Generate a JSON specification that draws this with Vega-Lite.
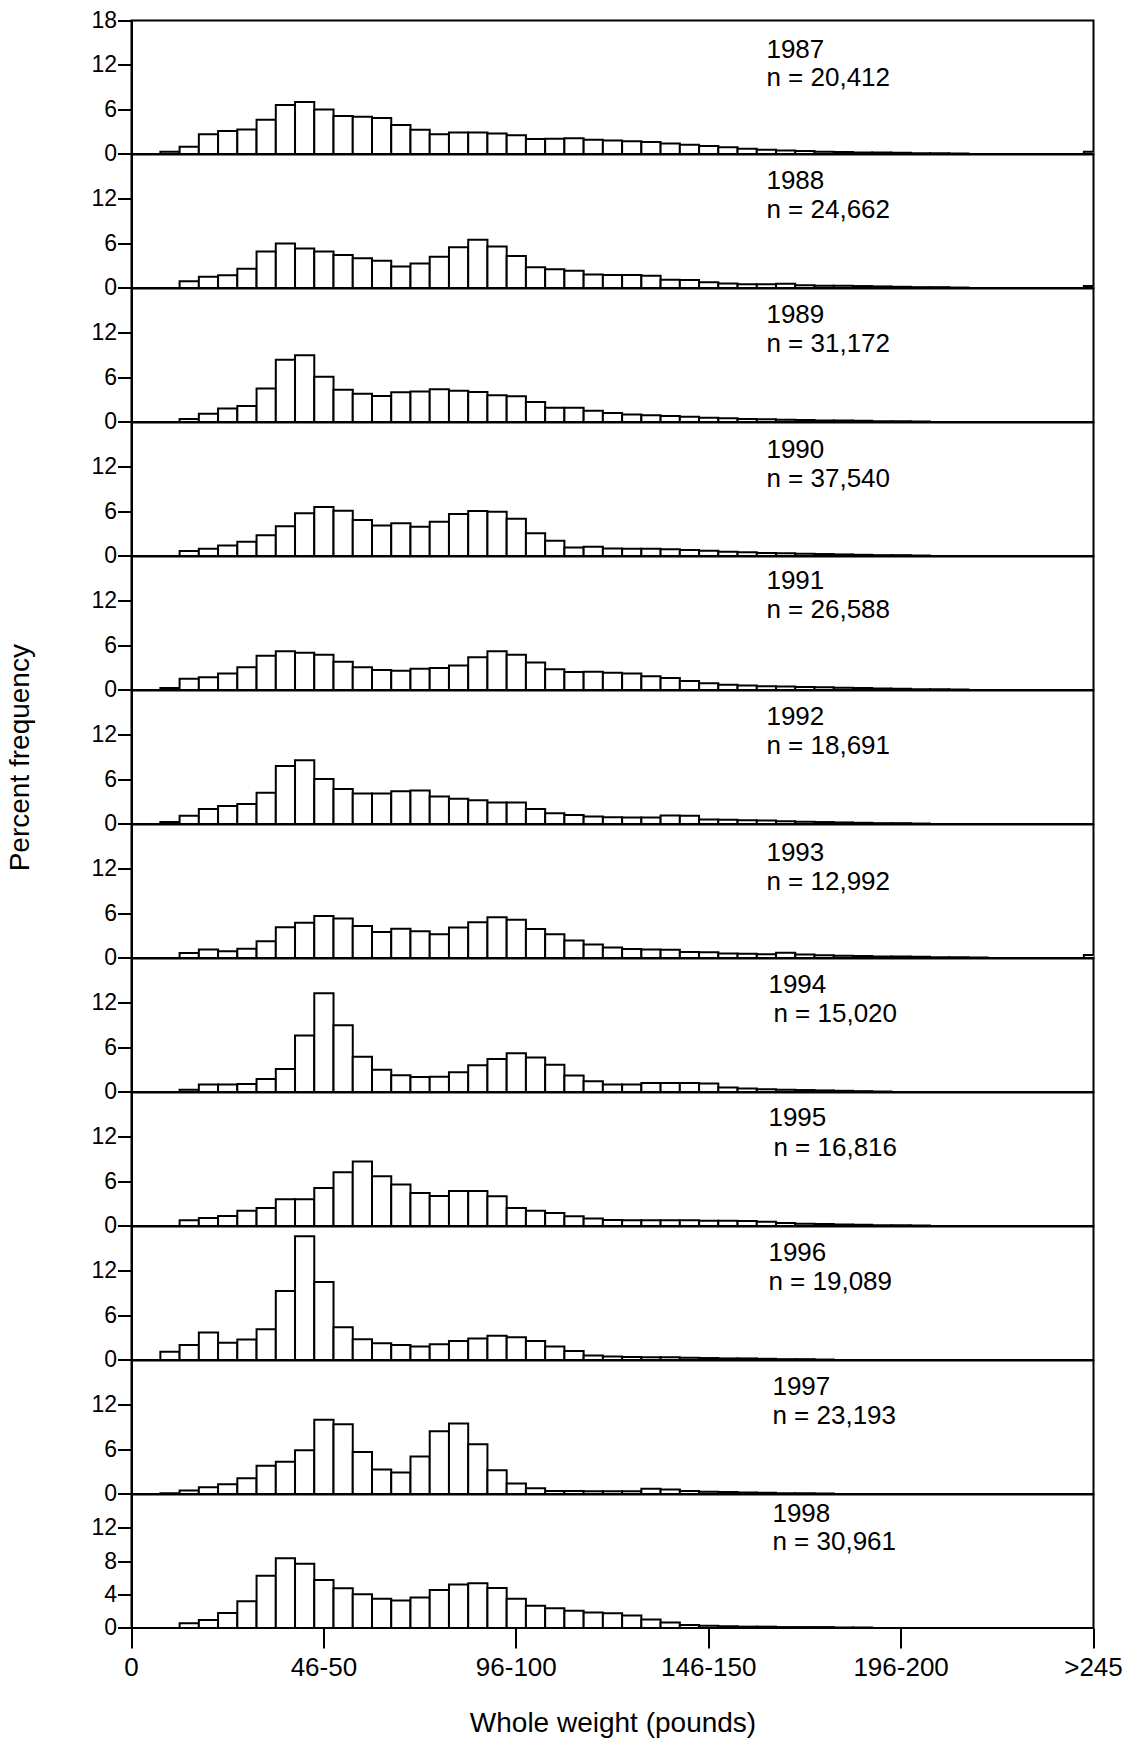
{
"$schema": "https://vega.github.io/schema/vega-lite/v6.json",
"padding": {"left": 4.5, "top": 8.5, "right": 5, "bottom": 0},
"bounds": "flush",
"spacing": 0,
"config": {
  "font": "Liberation Sans",
  "view": {"stroke": "black", "strokeWidth": 2},
  "axis": {"domainColor": "black", "domainWidth": 2, "tickColor": "black", "tickWidth": 2, "labelColor": "black", "titleColor": "black", "titleFontWeight": "normal", "grid": false, "labelOverlap": false, "labelFont": "Liberation Sans", "titleFont": "Liberation Sans"},
  "axisY": {"tickSize": 14, "labelPadding": 1, "labelFontSize": 23, "minExtent": 42, "maxExtent": 42},
  "axisX": {"tickSize": 20, "labelPadding": 7, "labelFontSize": 26, "labelAngle": 0, "domain": false, "titleFontSize": 28, "titlePadding": 29},
  "text": {"fill": "black", "font": "Liberation Sans", "fontSize": 26}
},
"datasets": {
"labels": [
{"year":1987,"line1":"1987","line2":"n = 20,412"},
{"year":1988,"line1":"1988","line2":"n = 24,662"},
{"year":1989,"line1":"1989","line2":"n = 31,172"},
{"year":1990,"line1":"1990","line2":"n = 37,540"},
{"year":1991,"line1":"1991","line2":"n = 26,588"},
{"year":1992,"line1":"1992","line2":"n = 18,691"},
{"year":1993,"line1":"1993","line2":"n = 12,992"},
{"year":1994,"line1":"1994","line2":"n = 15,020"},
{"year":1995,"line1":"1995","line2":"n = 16,816"},
{"year":1996,"line1":"1996","line2":"n = 19,089"},
{"year":1997,"line1":"1997","line2":"n = 23,193"},
{"year":1998,"line1":"1998","line2":"n = 30,961"}
],
"bars": [
{"year":1987,"weight":"6-10","pct":0.3},{"year":1987,"weight":"11-15","pct":0.95},{"year":1987,"weight":"16-20","pct":2.65},{"year":1987,"weight":"21-25","pct":3.1},{"year":1987,"weight":"26-30","pct":3.3},{"year":1987,"weight":"31-35","pct":4.6},{"year":1987,"weight":"36-40","pct":6.6},{"year":1987,"weight":"41-45","pct":7.0},{"year":1987,"weight":"46-50","pct":6.0},{"year":1987,"weight":"51-55","pct":5.1},{"year":1987,"weight":"56-60","pct":5.0},{"year":1987,"weight":"61-65","pct":4.85},{"year":1987,"weight":"66-70","pct":3.9},{"year":1987,"weight":"71-75","pct":3.25},{"year":1987,"weight":"76-80","pct":2.65},{"year":1987,"weight":"81-85","pct":2.9},{"year":1987,"weight":"86-90","pct":2.9},{"year":1987,"weight":"91-95","pct":2.75},{"year":1987,"weight":"96-100","pct":2.5},{"year":1987,"weight":"101-105","pct":2.0},{"year":1987,"weight":"106-110","pct":2.05},{"year":1987,"weight":"111-115","pct":2.1},{"year":1987,"weight":"116-120","pct":1.9},{"year":1987,"weight":"121-125","pct":1.8},{"year":1987,"weight":"126-130","pct":1.7},{"year":1987,"weight":"131-135","pct":1.6},{"year":1987,"weight":"136-140","pct":1.4},{"year":1987,"weight":"141-145","pct":1.25},{"year":1987,"weight":"146-150","pct":1.05},{"year":1987,"weight":"151-155","pct":0.9},{"year":1987,"weight":"156-160","pct":0.7},{"year":1987,"weight":"161-165","pct":0.55},{"year":1987,"weight":"166-170","pct":0.45},{"year":1987,"weight":"171-175","pct":0.4},{"year":1987,"weight":"176-180","pct":0.3},{"year":1987,"weight":"181-185","pct":0.25},{"year":1987,"weight":"186-190","pct":0.2},{"year":1987,"weight":"191-195","pct":0.2},{"year":1987,"weight":"196-200","pct":0.15},{"year":1987,"weight":"201-205","pct":0.1},{"year":1987,"weight":"206-210","pct":0.1},{"year":1987,"weight":"211-215","pct":0.05},{"year":1987,"weight":">245","pct":0.3},
{"year":1988,"weight":"11-15","pct":0.9},{"year":1988,"weight":"16-20","pct":1.5},{"year":1988,"weight":"21-25","pct":1.7},{"year":1988,"weight":"26-30","pct":2.6},{"year":1988,"weight":"31-35","pct":4.9},{"year":1988,"weight":"36-40","pct":6.0},{"year":1988,"weight":"41-45","pct":5.3},{"year":1988,"weight":"46-50","pct":4.9},{"year":1988,"weight":"51-55","pct":4.45},{"year":1988,"weight":"56-60","pct":4.0},{"year":1988,"weight":"61-65","pct":3.65},{"year":1988,"weight":"66-70","pct":2.9},{"year":1988,"weight":"71-75","pct":3.3},{"year":1988,"weight":"76-80","pct":4.2},{"year":1988,"weight":"81-85","pct":5.5},{"year":1988,"weight":"86-90","pct":6.5},{"year":1988,"weight":"91-95","pct":5.6},{"year":1988,"weight":"96-100","pct":4.3},{"year":1988,"weight":"101-105","pct":2.8},{"year":1988,"weight":"106-110","pct":2.5},{"year":1988,"weight":"111-115","pct":2.3},{"year":1988,"weight":"116-120","pct":1.8},{"year":1988,"weight":"121-125","pct":1.75},{"year":1988,"weight":"126-130","pct":1.75},{"year":1988,"weight":"131-135","pct":1.65},{"year":1988,"weight":"136-140","pct":1.1},{"year":1988,"weight":"141-145","pct":1.05},{"year":1988,"weight":"146-150","pct":0.75},{"year":1988,"weight":"151-155","pct":0.6},{"year":1988,"weight":"156-160","pct":0.5},{"year":1988,"weight":"161-165","pct":0.5},{"year":1988,"weight":"166-170","pct":0.55},{"year":1988,"weight":"171-175","pct":0.35},{"year":1988,"weight":"176-180","pct":0.3},{"year":1988,"weight":"181-185","pct":0.3},{"year":1988,"weight":"186-190","pct":0.25},{"year":1988,"weight":"191-195","pct":0.2},{"year":1988,"weight":"196-200","pct":0.15},{"year":1988,"weight":"201-205","pct":0.1},{"year":1988,"weight":"206-210","pct":0.1},{"year":1988,"weight":"211-215","pct":0.05},{"year":1988,"weight":">245","pct":0.25},
{"year":1989,"weight":"11-15","pct":0.4},{"year":1989,"weight":"16-20","pct":1.1},{"year":1989,"weight":"21-25","pct":1.8},{"year":1989,"weight":"26-30","pct":2.15},{"year":1989,"weight":"31-35","pct":4.5},{"year":1989,"weight":"36-40","pct":8.4},{"year":1989,"weight":"41-45","pct":9.0},{"year":1989,"weight":"46-50","pct":6.1},{"year":1989,"weight":"51-55","pct":4.35},{"year":1989,"weight":"56-60","pct":3.8},{"year":1989,"weight":"61-65","pct":3.5},{"year":1989,"weight":"66-70","pct":4.0},{"year":1989,"weight":"71-75","pct":4.1},{"year":1989,"weight":"76-80","pct":4.4},{"year":1989,"weight":"81-85","pct":4.2},{"year":1989,"weight":"86-90","pct":4.05},{"year":1989,"weight":"91-95","pct":3.6},{"year":1989,"weight":"96-100","pct":3.45},{"year":1989,"weight":"101-105","pct":2.7},{"year":1989,"weight":"106-110","pct":1.9},{"year":1989,"weight":"111-115","pct":1.9},{"year":1989,"weight":"116-120","pct":1.5},{"year":1989,"weight":"121-125","pct":1.2},{"year":1989,"weight":"126-130","pct":1.0},{"year":1989,"weight":"131-135","pct":0.9},{"year":1989,"weight":"136-140","pct":0.8},{"year":1989,"weight":"141-145","pct":0.7},{"year":1989,"weight":"146-150","pct":0.55},{"year":1989,"weight":"151-155","pct":0.5},{"year":1989,"weight":"156-160","pct":0.4},{"year":1989,"weight":"161-165","pct":0.35},{"year":1989,"weight":"166-170","pct":0.3},{"year":1989,"weight":"171-175","pct":0.25},{"year":1989,"weight":"176-180","pct":0.2},{"year":1989,"weight":"181-185","pct":0.2},{"year":1989,"weight":"186-190","pct":0.15},{"year":1989,"weight":"191-195","pct":0.1},{"year":1989,"weight":"196-200","pct":0.1},{"year":1989,"weight":"201-205","pct":0.05},
{"year":1990,"weight":"11-15","pct":0.67},{"year":1990,"weight":"16-20","pct":0.95},{"year":1990,"weight":"21-25","pct":1.4},{"year":1990,"weight":"26-30","pct":1.9},{"year":1990,"weight":"31-35","pct":2.8},{"year":1990,"weight":"36-40","pct":4.0},{"year":1990,"weight":"41-45","pct":5.75},{"year":1990,"weight":"46-50","pct":6.6},{"year":1990,"weight":"51-55","pct":6.1},{"year":1990,"weight":"56-60","pct":4.85},{"year":1990,"weight":"61-65","pct":4.1},{"year":1990,"weight":"66-70","pct":4.4},{"year":1990,"weight":"71-75","pct":3.95},{"year":1990,"weight":"76-80","pct":4.6},{"year":1990,"weight":"81-85","pct":5.65},{"year":1990,"weight":"86-90","pct":6.05},{"year":1990,"weight":"91-95","pct":5.95},{"year":1990,"weight":"96-100","pct":5.0},{"year":1990,"weight":"101-105","pct":3.05},{"year":1990,"weight":"106-110","pct":2.05},{"year":1990,"weight":"111-115","pct":1.15},{"year":1990,"weight":"116-120","pct":1.25},{"year":1990,"weight":"121-125","pct":1.0},{"year":1990,"weight":"126-130","pct":0.95},{"year":1990,"weight":"131-135","pct":0.95},{"year":1990,"weight":"136-140","pct":0.9},{"year":1990,"weight":"141-145","pct":0.8},{"year":1990,"weight":"146-150","pct":0.7},{"year":1990,"weight":"151-155","pct":0.55},{"year":1990,"weight":"156-160","pct":0.5},{"year":1990,"weight":"161-165","pct":0.4},{"year":1990,"weight":"166-170","pct":0.35},{"year":1990,"weight":"171-175","pct":0.3},{"year":1990,"weight":"176-180","pct":0.25},{"year":1990,"weight":"181-185","pct":0.2},{"year":1990,"weight":"186-190","pct":0.15},{"year":1990,"weight":"191-195","pct":0.1},{"year":1990,"weight":"196-200","pct":0.1},{"year":1990,"weight":"201-205","pct":0.05},
{"year":1991,"weight":"6-10","pct":0.25},{"year":1991,"weight":"11-15","pct":1.5},{"year":1991,"weight":"16-20","pct":1.7},{"year":1991,"weight":"21-25","pct":2.2},{"year":1991,"weight":"26-30","pct":3.05},{"year":1991,"weight":"31-35","pct":4.6},{"year":1991,"weight":"36-40","pct":5.2},{"year":1991,"weight":"41-45","pct":5.0},{"year":1991,"weight":"46-50","pct":4.75},{"year":1991,"weight":"51-55","pct":3.8},{"year":1991,"weight":"56-60","pct":3.05},{"year":1991,"weight":"61-65","pct":2.7},{"year":1991,"weight":"66-70","pct":2.6},{"year":1991,"weight":"71-75","pct":2.85},{"year":1991,"weight":"76-80","pct":2.95},{"year":1991,"weight":"81-85","pct":3.3},{"year":1991,"weight":"86-90","pct":4.4},{"year":1991,"weight":"91-95","pct":5.2},{"year":1991,"weight":"96-100","pct":4.75},{"year":1991,"weight":"101-105","pct":3.7},{"year":1991,"weight":"106-110","pct":2.8},{"year":1991,"weight":"111-115","pct":2.4},{"year":1991,"weight":"116-120","pct":2.45},{"year":1991,"weight":"121-125","pct":2.3},{"year":1991,"weight":"126-130","pct":2.2},{"year":1991,"weight":"131-135","pct":1.85},{"year":1991,"weight":"136-140","pct":1.6},{"year":1991,"weight":"141-145","pct":1.2},{"year":1991,"weight":"146-150","pct":0.9},{"year":1991,"weight":"151-155","pct":0.7},{"year":1991,"weight":"156-160","pct":0.6},{"year":1991,"weight":"161-165","pct":0.5},{"year":1991,"weight":"166-170","pct":0.45},{"year":1991,"weight":"171-175","pct":0.4},{"year":1991,"weight":"176-180","pct":0.35},{"year":1991,"weight":"181-185","pct":0.3},{"year":1991,"weight":"186-190","pct":0.25},{"year":1991,"weight":"191-195","pct":0.2},{"year":1991,"weight":"196-200","pct":0.15},{"year":1991,"weight":"201-205","pct":0.1},{"year":1991,"weight":"206-210","pct":0.1},{"year":1991,"weight":"211-215","pct":0.05},
{"year":1992,"weight":"6-10","pct":0.27},{"year":1992,"weight":"11-15","pct":1.1},{"year":1992,"weight":"16-20","pct":2.0},{"year":1992,"weight":"21-25","pct":2.4},{"year":1992,"weight":"26-30","pct":2.7},{"year":1992,"weight":"31-35","pct":4.2},{"year":1992,"weight":"36-40","pct":7.8},{"year":1992,"weight":"41-45","pct":8.6},{"year":1992,"weight":"46-50","pct":6.05},{"year":1992,"weight":"51-55","pct":4.7},{"year":1992,"weight":"56-60","pct":4.1},{"year":1992,"weight":"61-65","pct":4.1},{"year":1992,"weight":"66-70","pct":4.4},{"year":1992,"weight":"71-75","pct":4.5},{"year":1992,"weight":"76-80","pct":3.7},{"year":1992,"weight":"81-85","pct":3.4},{"year":1992,"weight":"86-90","pct":3.2},{"year":1992,"weight":"91-95","pct":2.9},{"year":1992,"weight":"96-100","pct":2.9},{"year":1992,"weight":"101-105","pct":2.0},{"year":1992,"weight":"106-110","pct":1.45},{"year":1992,"weight":"111-115","pct":1.2},{"year":1992,"weight":"116-120","pct":1.0},{"year":1992,"weight":"121-125","pct":0.9},{"year":1992,"weight":"126-130","pct":0.85},{"year":1992,"weight":"131-135","pct":0.85},{"year":1992,"weight":"136-140","pct":1.15},{"year":1992,"weight":"141-145","pct":1.1},{"year":1992,"weight":"146-150","pct":0.6},{"year":1992,"weight":"151-155","pct":0.55},{"year":1992,"weight":"156-160","pct":0.5},{"year":1992,"weight":"161-165","pct":0.45},{"year":1992,"weight":"166-170","pct":0.35},{"year":1992,"weight":"171-175","pct":0.3},{"year":1992,"weight":"176-180","pct":0.25},{"year":1992,"weight":"181-185","pct":0.2},{"year":1992,"weight":"186-190","pct":0.15},{"year":1992,"weight":"191-195","pct":0.1},{"year":1992,"weight":"196-200","pct":0.1},{"year":1992,"weight":"201-205","pct":0.05},
{"year":1993,"weight":"11-15","pct":0.65},{"year":1993,"weight":"16-20","pct":1.15},{"year":1993,"weight":"21-25","pct":0.9},{"year":1993,"weight":"26-30","pct":1.25},{"year":1993,"weight":"31-35","pct":2.25},{"year":1993,"weight":"36-40","pct":4.15},{"year":1993,"weight":"41-45","pct":4.75},{"year":1993,"weight":"46-50","pct":5.65},{"year":1993,"weight":"51-55","pct":5.3},{"year":1993,"weight":"56-60","pct":4.3},{"year":1993,"weight":"61-65","pct":3.5},{"year":1993,"weight":"66-70","pct":3.95},{"year":1993,"weight":"71-75","pct":3.6},{"year":1993,"weight":"76-80","pct":3.2},{"year":1993,"weight":"81-85","pct":4.1},{"year":1993,"weight":"86-90","pct":4.8},{"year":1993,"weight":"91-95","pct":5.5},{"year":1993,"weight":"96-100","pct":5.15},{"year":1993,"weight":"101-105","pct":3.9},{"year":1993,"weight":"106-110","pct":3.2},{"year":1993,"weight":"111-115","pct":2.35},{"year":1993,"weight":"116-120","pct":1.8},{"year":1993,"weight":"121-125","pct":1.4},{"year":1993,"weight":"126-130","pct":1.2},{"year":1993,"weight":"131-135","pct":1.15},{"year":1993,"weight":"136-140","pct":1.1},{"year":1993,"weight":"141-145","pct":0.8},{"year":1993,"weight":"146-150","pct":0.75},{"year":1993,"weight":"151-155","pct":0.6},{"year":1993,"weight":"156-160","pct":0.55},{"year":1993,"weight":"161-165","pct":0.5},{"year":1993,"weight":"166-170","pct":0.7},{"year":1993,"weight":"171-175","pct":0.45},{"year":1993,"weight":"176-180","pct":0.35},{"year":1993,"weight":"181-185","pct":0.3},{"year":1993,"weight":"186-190","pct":0.25},{"year":1993,"weight":"191-195","pct":0.2},{"year":1993,"weight":"196-200","pct":0.2},{"year":1993,"weight":"201-205","pct":0.15},{"year":1993,"weight":"206-210","pct":0.1},{"year":1993,"weight":"211-215","pct":0.1},{"year":1993,"weight":"216-220","pct":0.05},{"year":1993,"weight":">245","pct":0.4},
{"year":1994,"weight":"11-15","pct":0.3},{"year":1994,"weight":"16-20","pct":1.0},{"year":1994,"weight":"21-25","pct":1.0},{"year":1994,"weight":"26-30","pct":1.05},{"year":1994,"weight":"31-35","pct":1.75},{"year":1994,"weight":"36-40","pct":3.1},{"year":1994,"weight":"41-45","pct":7.6},{"year":1994,"weight":"46-50","pct":13.3},{"year":1994,"weight":"51-55","pct":9.0},{"year":1994,"weight":"56-60","pct":4.75},{"year":1994,"weight":"61-65","pct":3.0},{"year":1994,"weight":"66-70","pct":2.25},{"year":1994,"weight":"71-75","pct":2.0},{"year":1994,"weight":"76-80","pct":2.05},{"year":1994,"weight":"81-85","pct":2.65},{"year":1994,"weight":"86-90","pct":3.6},{"year":1994,"weight":"91-95","pct":4.45},{"year":1994,"weight":"96-100","pct":5.2},{"year":1994,"weight":"101-105","pct":4.65},{"year":1994,"weight":"106-110","pct":3.65},{"year":1994,"weight":"111-115","pct":2.2},{"year":1994,"weight":"116-120","pct":1.45},{"year":1994,"weight":"121-125","pct":1.0},{"year":1994,"weight":"126-130","pct":1.0},{"year":1994,"weight":"131-135","pct":1.2},{"year":1994,"weight":"136-140","pct":1.2},{"year":1994,"weight":"141-145","pct":1.2},{"year":1994,"weight":"146-150","pct":1.15},{"year":1994,"weight":"151-155","pct":0.6},{"year":1994,"weight":"156-160","pct":0.45},{"year":1994,"weight":"161-165","pct":0.35},{"year":1994,"weight":"166-170","pct":0.3},{"year":1994,"weight":"171-175","pct":0.25},{"year":1994,"weight":"176-180","pct":0.2},{"year":1994,"weight":"181-185","pct":0.15},{"year":1994,"weight":"186-190","pct":0.1},{"year":1994,"weight":"191-195","pct":0.05},
{"year":1995,"weight":"11-15","pct":0.75},{"year":1995,"weight":"16-20","pct":1.05},{"year":1995,"weight":"21-25","pct":1.35},{"year":1995,"weight":"26-30","pct":2.05},{"year":1995,"weight":"31-35","pct":2.4},{"year":1995,"weight":"36-40","pct":3.6},{"year":1995,"weight":"41-45","pct":3.6},{"year":1995,"weight":"46-50","pct":5.1},{"year":1995,"weight":"51-55","pct":7.25},{"year":1995,"weight":"56-60","pct":8.7},{"year":1995,"weight":"61-65","pct":6.7},{"year":1995,"weight":"66-70","pct":5.6},{"year":1995,"weight":"71-75","pct":4.45},{"year":1995,"weight":"76-80","pct":4.05},{"year":1995,"weight":"81-85","pct":4.7},{"year":1995,"weight":"86-90","pct":4.7},{"year":1995,"weight":"91-95","pct":4.0},{"year":1995,"weight":"96-100","pct":2.4},{"year":1995,"weight":"101-105","pct":2.05},{"year":1995,"weight":"106-110","pct":1.75},{"year":1995,"weight":"111-115","pct":1.3},{"year":1995,"weight":"116-120","pct":1.0},{"year":1995,"weight":"121-125","pct":0.8},{"year":1995,"weight":"126-130","pct":0.75},{"year":1995,"weight":"131-135","pct":0.75},{"year":1995,"weight":"136-140","pct":0.75},{"year":1995,"weight":"141-145","pct":0.75},{"year":1995,"weight":"146-150","pct":0.7},{"year":1995,"weight":"151-155","pct":0.7},{"year":1995,"weight":"156-160","pct":0.65},{"year":1995,"weight":"161-165","pct":0.55},{"year":1995,"weight":"166-170","pct":0.4},{"year":1995,"weight":"171-175","pct":0.3},{"year":1995,"weight":"176-180","pct":0.25},{"year":1995,"weight":"181-185","pct":0.2},{"year":1995,"weight":"186-190","pct":0.15},{"year":1995,"weight":"191-195","pct":0.1},{"year":1995,"weight":"196-200","pct":0.1},{"year":1995,"weight":"201-205","pct":0.05},
{"year":1996,"weight":"6-10","pct":1.1},{"year":1996,"weight":"11-15","pct":2.0},{"year":1996,"weight":"16-20","pct":3.7},{"year":1996,"weight":"21-25","pct":2.3},{"year":1996,"weight":"26-30","pct":2.75},{"year":1996,"weight":"31-35","pct":4.15},{"year":1996,"weight":"36-40","pct":9.3},{"year":1996,"weight":"41-45","pct":16.7},{"year":1996,"weight":"46-50","pct":10.5},{"year":1996,"weight":"51-55","pct":4.4},{"year":1996,"weight":"56-60","pct":2.8},{"year":1996,"weight":"61-65","pct":2.25},{"year":1996,"weight":"66-70","pct":2.0},{"year":1996,"weight":"71-75","pct":1.8},{"year":1996,"weight":"76-80","pct":2.1},{"year":1996,"weight":"81-85","pct":2.55},{"year":1996,"weight":"86-90","pct":2.9},{"year":1996,"weight":"91-95","pct":3.25},{"year":1996,"weight":"96-100","pct":3.05},{"year":1996,"weight":"101-105","pct":2.55},{"year":1996,"weight":"106-110","pct":1.8},{"year":1996,"weight":"111-115","pct":1.2},{"year":1996,"weight":"116-120","pct":0.6},{"year":1996,"weight":"121-125","pct":0.45},{"year":1996,"weight":"126-130","pct":0.4},{"year":1996,"weight":"131-135","pct":0.35},{"year":1996,"weight":"136-140","pct":0.35},{"year":1996,"weight":"141-145","pct":0.3},{"year":1996,"weight":"146-150","pct":0.25},{"year":1996,"weight":"151-155","pct":0.2},{"year":1996,"weight":"156-160","pct":0.2},{"year":1996,"weight":"161-165","pct":0.15},{"year":1996,"weight":"166-170","pct":0.1},{"year":1996,"weight":"171-175","pct":0.1},{"year":1996,"weight":"176-180","pct":0.05},
{"year":1997,"weight":"6-10","pct":0.1},{"year":1997,"weight":"11-15","pct":0.45},{"year":1997,"weight":"16-20","pct":0.9},{"year":1997,"weight":"21-25","pct":1.3},{"year":1997,"weight":"26-30","pct":2.1},{"year":1997,"weight":"31-35","pct":3.8},{"year":1997,"weight":"36-40","pct":4.35},{"year":1997,"weight":"41-45","pct":5.9},{"year":1997,"weight":"46-50","pct":10.0},{"year":1997,"weight":"51-55","pct":9.4},{"year":1997,"weight":"56-60","pct":5.65},{"year":1997,"weight":"61-65","pct":3.3},{"year":1997,"weight":"66-70","pct":2.9},{"year":1997,"weight":"71-75","pct":5.05},{"year":1997,"weight":"76-80","pct":8.45},{"year":1997,"weight":"81-85","pct":9.5},{"year":1997,"weight":"86-90","pct":6.7},{"year":1997,"weight":"91-95","pct":3.2},{"year":1997,"weight":"96-100","pct":1.4},{"year":1997,"weight":"101-105","pct":0.75},{"year":1997,"weight":"106-110","pct":0.4},{"year":1997,"weight":"111-115","pct":0.4},{"year":1997,"weight":"116-120","pct":0.35},{"year":1997,"weight":"121-125","pct":0.35},{"year":1997,"weight":"126-130","pct":0.35},{"year":1997,"weight":"131-135","pct":0.7},{"year":1997,"weight":"136-140","pct":0.6},{"year":1997,"weight":"141-145","pct":0.4},{"year":1997,"weight":"146-150","pct":0.3},{"year":1997,"weight":"151-155","pct":0.25},{"year":1997,"weight":"156-160","pct":0.2},{"year":1997,"weight":"161-165","pct":0.15},{"year":1997,"weight":"166-170","pct":0.1},{"year":1997,"weight":"171-175","pct":0.1},{"year":1997,"weight":"176-180","pct":0.05},
{"year":1998,"weight":"11-15","pct":0.55},{"year":1998,"weight":"16-20","pct":0.95},{"year":1998,"weight":"21-25","pct":1.8},{"year":1998,"weight":"26-30","pct":3.2},{"year":1998,"weight":"31-35","pct":6.25},{"year":1998,"weight":"36-40","pct":8.35},{"year":1998,"weight":"41-45","pct":7.7},{"year":1998,"weight":"46-50","pct":5.75},{"year":1998,"weight":"51-55","pct":4.75},{"year":1998,"weight":"56-60","pct":4.05},{"year":1998,"weight":"61-65","pct":3.5},{"year":1998,"weight":"66-70","pct":3.3},{"year":1998,"weight":"71-75","pct":3.65},{"year":1998,"weight":"76-80","pct":4.55},{"year":1998,"weight":"81-85","pct":5.2},{"year":1998,"weight":"86-90","pct":5.35},{"year":1998,"weight":"91-95","pct":4.8},{"year":1998,"weight":"96-100","pct":3.5},{"year":1998,"weight":"101-105","pct":2.65},{"year":1998,"weight":"106-110","pct":2.35},{"year":1998,"weight":"111-115","pct":2.05},{"year":1998,"weight":"116-120","pct":1.85},{"year":1998,"weight":"121-125","pct":1.75},{"year":1998,"weight":"126-130","pct":1.5},{"year":1998,"weight":"131-135","pct":1.0},{"year":1998,"weight":"136-140","pct":0.65},{"year":1998,"weight":"141-145","pct":0.35},{"year":1998,"weight":"146-150","pct":0.25},{"year":1998,"weight":"151-155","pct":0.2},{"year":1998,"weight":"156-160","pct":0.15},{"year":1998,"weight":"161-165","pct":0.15},{"year":1998,"weight":"166-170","pct":0.1},{"year":1998,"weight":"171-175","pct":0.1},{"year":1998,"weight":"176-180","pct":0.1},{"year":1998,"weight":"181-185","pct":0.05},{"year":1998,"weight":"186-190","pct":0.05}
]
},
"vconcat": [
{"width":962,"height":133.4,"layer":[
 {"data":{"name":"bars"},"transform":[{"filter":"datum.year == 1987"}],"mark":{"type":"bar","fill":"white","stroke":"black","strokeWidth":2,"clip":true},
  "encoding":{"x":{"field":"weight","type":"ordinal","scale":{"domain":["0","1-5","6-10","11-15","16-20","21-25","26-30","31-35","36-40","41-45","46-50","51-55","56-60","61-65","66-70","71-75","76-80","81-85","86-90","91-95","96-100","101-105","106-110","111-115","116-120","121-125","126-130","131-135","136-140","141-145","146-150","151-155","156-160","161-165","166-170","171-175","176-180","181-185","186-190","191-195","196-200","201-205","206-210","211-215","216-220","221-225","226-230","231-235","236-240","241-245",">245"],"range":[-9.62,971.62],"paddingInner":0,"paddingOuter":0},"axis":null},
   "y":{"field":"pct","type":"quantitative","scale":{"domain":[0,18],"nice":false},"axis":{"title":null,"values":[0,6,12,18]}}}},
 {"data":{"name":"labels"},"transform":[{"filter":"datum.year == 1987"}],"mark":{"type":"text","align":"left","baseline":"alphabetic"},"encoding":{"x":{"datum":"161-165","type":"ordinal"},"y":{"datum":13.0},"text":{"field":"line1"}}},
 {"data":{"name":"labels"},"transform":[{"filter":"datum.year == 1987"}],"mark":{"type":"text","align":"left","baseline":"alphabetic"},"encoding":{"x":{"datum":"161-165","type":"ordinal"},"y":{"datum":9.1},"text":{"field":"line2"}}}
]},
{"width":962,"height":133.4,"layer":[
 {"data":{"name":"bars"},"transform":[{"filter":"datum.year == 1988"}],"mark":{"type":"bar","fill":"white","stroke":"black","strokeWidth":2,"clip":true},
  "encoding":{"x":{"field":"weight","type":"ordinal","scale":{"domain":["0","1-5","6-10","11-15","16-20","21-25","26-30","31-35","36-40","41-45","46-50","51-55","56-60","61-65","66-70","71-75","76-80","81-85","86-90","91-95","96-100","101-105","106-110","111-115","116-120","121-125","126-130","131-135","136-140","141-145","146-150","151-155","156-160","161-165","166-170","171-175","176-180","181-185","186-190","191-195","196-200","201-205","206-210","211-215","216-220","221-225","226-230","231-235","236-240","241-245",">245"],"range":[-9.62,971.62],"paddingInner":0,"paddingOuter":0},"axis":null},
   "y":{"field":"pct","type":"quantitative","scale":{"domain":[0,18],"nice":false},"axis":{"title":null,"values":[0,6,12]}}}},
 {"data":{"name":"labels"},"transform":[{"filter":"datum.year == 1988"}],"mark":{"type":"text","align":"left","baseline":"alphabetic"},"encoding":{"x":{"datum":"161-165","type":"ordinal"},"y":{"datum":13.3},"text":{"field":"line1"}}},
 {"data":{"name":"labels"},"transform":[{"filter":"datum.year == 1988"}],"mark":{"type":"text","align":"left","baseline":"alphabetic"},"encoding":{"x":{"datum":"161-165","type":"ordinal"},"y":{"datum":9.4},"text":{"field":"line2"}}}
]},
{"width":962,"height":133.4,"layer":[
 {"data":{"name":"bars"},"transform":[{"filter":"datum.year == 1989"}],"mark":{"type":"bar","fill":"white","stroke":"black","strokeWidth":2,"clip":true},
  "encoding":{"x":{"field":"weight","type":"ordinal","scale":{"domain":["0","1-5","6-10","11-15","16-20","21-25","26-30","31-35","36-40","41-45","46-50","51-55","56-60","61-65","66-70","71-75","76-80","81-85","86-90","91-95","96-100","101-105","106-110","111-115","116-120","121-125","126-130","131-135","136-140","141-145","146-150","151-155","156-160","161-165","166-170","171-175","176-180","181-185","186-190","191-195","196-200","201-205","206-210","211-215","216-220","221-225","226-230","231-235","236-240","241-245",">245"],"range":[-9.62,971.62],"paddingInner":0,"paddingOuter":0},"axis":null},
   "y":{"field":"pct","type":"quantitative","scale":{"domain":[0,18],"nice":false},"axis":{"title":null,"values":[0,6,12]}}}},
 {"data":{"name":"labels"},"transform":[{"filter":"datum.year == 1989"}],"mark":{"type":"text","align":"left","baseline":"alphabetic"},"encoding":{"x":{"datum":"161-165","type":"ordinal"},"y":{"datum":13.3},"text":{"field":"line1"}}},
 {"data":{"name":"labels"},"transform":[{"filter":"datum.year == 1989"}],"mark":{"type":"text","align":"left","baseline":"alphabetic"},"encoding":{"x":{"datum":"161-165","type":"ordinal"},"y":{"datum":9.4},"text":{"field":"line2"}}}
]},
{"width":962,"height":133.4,"layer":[
 {"data":{"name":"bars"},"transform":[{"filter":"datum.year == 1990"}],"mark":{"type":"bar","fill":"white","stroke":"black","strokeWidth":2,"clip":true},
  "encoding":{"x":{"field":"weight","type":"ordinal","scale":{"domain":["0","1-5","6-10","11-15","16-20","21-25","26-30","31-35","36-40","41-45","46-50","51-55","56-60","61-65","66-70","71-75","76-80","81-85","86-90","91-95","96-100","101-105","106-110","111-115","116-120","121-125","126-130","131-135","136-140","141-145","146-150","151-155","156-160","161-165","166-170","171-175","176-180","181-185","186-190","191-195","196-200","201-205","206-210","211-215","216-220","221-225","226-230","231-235","236-240","241-245",">245"],"range":[-9.62,971.62],"paddingInner":0,"paddingOuter":0},"axis":null},
   "y":{"field":"pct","type":"quantitative","scale":{"domain":[0,18],"nice":false},"axis":{"title":null,"values":[0,6,12]}}}},
 {"data":{"name":"labels"},"transform":[{"filter":"datum.year == 1990"}],"mark":{"type":"text","align":"left","baseline":"alphabetic"},"encoding":{"x":{"datum":"161-165","type":"ordinal"},"y":{"datum":13.2},"text":{"field":"line1"}}},
 {"data":{"name":"labels"},"transform":[{"filter":"datum.year == 1990"}],"mark":{"type":"text","align":"left","baseline":"alphabetic"},"encoding":{"x":{"datum":"161-165","type":"ordinal"},"y":{"datum":9.25},"text":{"field":"line2"}}}
]},
{"width":962,"height":133.4,"layer":[
 {"data":{"name":"bars"},"transform":[{"filter":"datum.year == 1991"}],"mark":{"type":"bar","fill":"white","stroke":"black","strokeWidth":2,"clip":true},
  "encoding":{"x":{"field":"weight","type":"ordinal","scale":{"domain":["0","1-5","6-10","11-15","16-20","21-25","26-30","31-35","36-40","41-45","46-50","51-55","56-60","61-65","66-70","71-75","76-80","81-85","86-90","91-95","96-100","101-105","106-110","111-115","116-120","121-125","126-130","131-135","136-140","141-145","146-150","151-155","156-160","161-165","166-170","171-175","176-180","181-185","186-190","191-195","196-200","201-205","206-210","211-215","216-220","221-225","226-230","231-235","236-240","241-245",">245"],"range":[-9.62,971.62],"paddingInner":0,"paddingOuter":0},"axis":null},
   "y":{"field":"pct","type":"quantitative","scale":{"domain":[0,18],"nice":false},"axis":{"title":null,"values":[0,6,12]}}}},
 {"data":{"name":"labels"},"transform":[{"filter":"datum.year == 1991"}],"mark":{"type":"text","align":"left","baseline":"alphabetic"},"encoding":{"x":{"datum":"161-165","type":"ordinal"},"y":{"datum":13.6},"text":{"field":"line1"}}},
 {"data":{"name":"labels"},"transform":[{"filter":"datum.year == 1991"}],"mark":{"type":"text","align":"left","baseline":"alphabetic"},"encoding":{"x":{"datum":"161-165","type":"ordinal"},"y":{"datum":9.7},"text":{"field":"line2"}}}
]},
{"width":962,"height":133.4,"layer":[
 {"data":{"name":"bars"},"transform":[{"filter":"datum.year == 1992"}],"mark":{"type":"bar","fill":"white","stroke":"black","strokeWidth":2,"clip":true},
  "encoding":{"x":{"field":"weight","type":"ordinal","scale":{"domain":["0","1-5","6-10","11-15","16-20","21-25","26-30","31-35","36-40","41-45","46-50","51-55","56-60","61-65","66-70","71-75","76-80","81-85","86-90","91-95","96-100","101-105","106-110","111-115","116-120","121-125","126-130","131-135","136-140","141-145","146-150","151-155","156-160","161-165","166-170","171-175","176-180","181-185","186-190","191-195","196-200","201-205","206-210","211-215","216-220","221-225","226-230","231-235","236-240","241-245",">245"],"range":[-9.62,971.62],"paddingInner":0,"paddingOuter":0},"axis":null},
   "y":{"field":"pct","type":"quantitative","scale":{"domain":[0,18],"nice":false},"axis":{"title":"Percent frequency","titleFontSize":28,"titlePadding":55.5,"values":[0,6,12]}}}},
 {"data":{"name":"labels"},"transform":[{"filter":"datum.year == 1992"}],"mark":{"type":"text","align":"left","baseline":"alphabetic"},"encoding":{"x":{"datum":"161-165","type":"ordinal"},"y":{"datum":13.3},"text":{"field":"line1"}}},
 {"data":{"name":"labels"},"transform":[{"filter":"datum.year == 1992"}],"mark":{"type":"text","align":"left","baseline":"alphabetic"},"encoding":{"x":{"datum":"161-165","type":"ordinal"},"y":{"datum":9.4},"text":{"field":"line2"}}}
]},
{"width":962,"height":133.4,"layer":[
 {"data":{"name":"bars"},"transform":[{"filter":"datum.year == 1993"}],"mark":{"type":"bar","fill":"white","stroke":"black","strokeWidth":2,"clip":true},
  "encoding":{"x":{"field":"weight","type":"ordinal","scale":{"domain":["0","1-5","6-10","11-15","16-20","21-25","26-30","31-35","36-40","41-45","46-50","51-55","56-60","61-65","66-70","71-75","76-80","81-85","86-90","91-95","96-100","101-105","106-110","111-115","116-120","121-125","126-130","131-135","136-140","141-145","146-150","151-155","156-160","161-165","166-170","171-175","176-180","181-185","186-190","191-195","196-200","201-205","206-210","211-215","216-220","221-225","226-230","231-235","236-240","241-245",">245"],"range":[-9.62,971.62],"paddingInner":0,"paddingOuter":0},"axis":null},
   "y":{"field":"pct","type":"quantitative","scale":{"domain":[0,18],"nice":false},"axis":{"title":null,"values":[0,6,12]}}}},
 {"data":{"name":"labels"},"transform":[{"filter":"datum.year == 1993"}],"mark":{"type":"text","align":"left","baseline":"alphabetic"},"encoding":{"x":{"datum":"161-165","type":"ordinal"},"y":{"datum":13.1},"text":{"field":"line1"}}},
 {"data":{"name":"labels"},"transform":[{"filter":"datum.year == 1993"}],"mark":{"type":"text","align":"left","baseline":"alphabetic"},"encoding":{"x":{"datum":"161-165","type":"ordinal"},"y":{"datum":9.1},"text":{"field":"line2"}}}
]},
{"width":962,"height":133.4,"layer":[
 {"data":{"name":"bars"},"transform":[{"filter":"datum.year == 1994"}],"mark":{"type":"bar","fill":"white","stroke":"black","strokeWidth":2,"clip":true},
  "encoding":{"x":{"field":"weight","type":"ordinal","scale":{"domain":["0","1-5","6-10","11-15","16-20","21-25","26-30","31-35","36-40","41-45","46-50","51-55","56-60","61-65","66-70","71-75","76-80","81-85","86-90","91-95","96-100","101-105","106-110","111-115","116-120","121-125","126-130","131-135","136-140","141-145","146-150","151-155","156-160","161-165","166-170","171-175","176-180","181-185","186-190","191-195","196-200","201-205","206-210","211-215","216-220","221-225","226-230","231-235","236-240","241-245",">245"],"range":[-9.62,971.62],"paddingInner":0,"paddingOuter":0},"axis":null},
   "y":{"field":"pct","type":"quantitative","scale":{"domain":[0,18],"nice":false},"axis":{"title":null,"values":[0,6,12]}}}},
 {"data":{"name":"labels"},"transform":[{"filter":"datum.year == 1994"}],"mark":{"type":"text","align":"left","baseline":"alphabetic","dx":2},"encoding":{"x":{"datum":"161-165","type":"ordinal"},"y":{"datum":13.35},"text":{"field":"line1"}}},
 {"data":{"name":"labels"},"transform":[{"filter":"datum.year == 1994"}],"mark":{"type":"text","align":"left","baseline":"alphabetic","dx":7},"encoding":{"x":{"datum":"161-165","type":"ordinal"},"y":{"datum":9.4},"text":{"field":"line2"}}}
]},
{"width":962,"height":133.4,"layer":[
 {"data":{"name":"bars"},"transform":[{"filter":"datum.year == 1995"}],"mark":{"type":"bar","fill":"white","stroke":"black","strokeWidth":2,"clip":true},
  "encoding":{"x":{"field":"weight","type":"ordinal","scale":{"domain":["0","1-5","6-10","11-15","16-20","21-25","26-30","31-35","36-40","41-45","46-50","51-55","56-60","61-65","66-70","71-75","76-80","81-85","86-90","91-95","96-100","101-105","106-110","111-115","116-120","121-125","126-130","131-135","136-140","141-145","146-150","151-155","156-160","161-165","166-170","171-175","176-180","181-185","186-190","191-195","196-200","201-205","206-210","211-215","216-220","221-225","226-230","231-235","236-240","241-245",">245"],"range":[-9.62,971.62],"paddingInner":0,"paddingOuter":0},"axis":null},
   "y":{"field":"pct","type":"quantitative","scale":{"domain":[0,18],"nice":false},"axis":{"title":null,"values":[0,6,12]}}}},
 {"data":{"name":"labels"},"transform":[{"filter":"datum.year == 1995"}],"mark":{"type":"text","align":"left","baseline":"alphabetic","dx":2},"encoding":{"x":{"datum":"161-165","type":"ordinal"},"y":{"datum":13.5},"text":{"field":"line1"}}},
 {"data":{"name":"labels"},"transform":[{"filter":"datum.year == 1995"}],"mark":{"type":"text","align":"left","baseline":"alphabetic","dx":7},"encoding":{"x":{"datum":"161-165","type":"ordinal"},"y":{"datum":9.4},"text":{"field":"line2"}}}
]},
{"width":962,"height":133.4,"layer":[
 {"data":{"name":"bars"},"transform":[{"filter":"datum.year == 1996"}],"mark":{"type":"bar","fill":"white","stroke":"black","strokeWidth":2,"clip":true},
  "encoding":{"x":{"field":"weight","type":"ordinal","scale":{"domain":["0","1-5","6-10","11-15","16-20","21-25","26-30","31-35","36-40","41-45","46-50","51-55","56-60","61-65","66-70","71-75","76-80","81-85","86-90","91-95","96-100","101-105","106-110","111-115","116-120","121-125","126-130","131-135","136-140","141-145","146-150","151-155","156-160","161-165","166-170","171-175","176-180","181-185","186-190","191-195","196-200","201-205","206-210","211-215","216-220","221-225","226-230","231-235","236-240","241-245",">245"],"range":[-9.62,971.62],"paddingInner":0,"paddingOuter":0},"axis":null},
   "y":{"field":"pct","type":"quantitative","scale":{"domain":[0,18],"nice":false},"axis":{"title":null,"values":[0,6,12]}}}},
 {"data":{"name":"labels"},"transform":[{"filter":"datum.year == 1996"}],"mark":{"type":"text","align":"left","baseline":"alphabetic","dx":2},"encoding":{"x":{"datum":"161-165","type":"ordinal"},"y":{"datum":13.35},"text":{"field":"line1"}}},
 {"data":{"name":"labels"},"transform":[{"filter":"datum.year == 1996"}],"mark":{"type":"text","align":"left","baseline":"alphabetic","dx":2},"encoding":{"x":{"datum":"161-165","type":"ordinal"},"y":{"datum":9.4},"text":{"field":"line2"}}}
]},
{"width":962,"height":133.4,"layer":[
 {"data":{"name":"bars"},"transform":[{"filter":"datum.year == 1997"}],"mark":{"type":"bar","fill":"white","stroke":"black","strokeWidth":2,"clip":true},
  "encoding":{"x":{"field":"weight","type":"ordinal","scale":{"domain":["0","1-5","6-10","11-15","16-20","21-25","26-30","31-35","36-40","41-45","46-50","51-55","56-60","61-65","66-70","71-75","76-80","81-85","86-90","91-95","96-100","101-105","106-110","111-115","116-120","121-125","126-130","131-135","136-140","141-145","146-150","151-155","156-160","161-165","166-170","171-175","176-180","181-185","186-190","191-195","196-200","201-205","206-210","211-215","216-220","221-225","226-230","231-235","236-240","241-245",">245"],"range":[-9.62,971.62],"paddingInner":0,"paddingOuter":0},"axis":null},
   "y":{"field":"pct","type":"quantitative","scale":{"domain":[0,18],"nice":false},"axis":{"title":null,"values":[0,6,12]}}}},
 {"data":{"name":"labels"},"transform":[{"filter":"datum.year == 1997"}],"mark":{"type":"text","align":"left","baseline":"alphabetic","dx":6},"encoding":{"x":{"datum":"161-165","type":"ordinal"},"y":{"datum":13.35},"text":{"field":"line1"}}},
 {"data":{"name":"labels"},"transform":[{"filter":"datum.year == 1997"}],"mark":{"type":"text","align":"left","baseline":"alphabetic","dx":6},"encoding":{"x":{"datum":"161-165","type":"ordinal"},"y":{"datum":9.4},"text":{"field":"line2"}}}
]},
{"width":962,"height":133.4,"layer":[
 {"data":{"name":"bars"},"transform":[{"filter":"datum.year == 1998"}],"mark":{"type":"bar","fill":"white","stroke":"black","strokeWidth":2,"clip":true},
  "encoding":{"x":{"field":"weight","type":"ordinal","scale":{"domain":["0","1-5","6-10","11-15","16-20","21-25","26-30","31-35","36-40","41-45","46-50","51-55","56-60","61-65","66-70","71-75","76-80","81-85","86-90","91-95","96-100","101-105","106-110","111-115","116-120","121-125","126-130","131-135","136-140","141-145","146-150","151-155","156-160","161-165","166-170","171-175","176-180","181-185","186-190","191-195","196-200","201-205","206-210","211-215","216-220","221-225","226-230","231-235","236-240","241-245",">245"],"range":[-9.62,971.62],"paddingInner":0,"paddingOuter":0},
     "axis":{"title":"Whole weight (pounds)","values":["0","46-50","96-100","146-150","196-200",">245"]}},
   "y":{"field":"pct","type":"quantitative","scale":{"domain":[0,16],"nice":false},"axis":{"title":null,"values":[0,4,8,12]}}}},
 {"data":{"name":"labels"},"transform":[{"filter":"datum.year == 1998"}],"mark":{"type":"text","align":"left","baseline":"alphabetic","dx":6},"encoding":{"x":{"datum":"161-165","type":"ordinal"},"y":{"datum":12.7},"text":{"field":"line1"}}},
 {"data":{"name":"labels"},"transform":[{"filter":"datum.year == 1998"}],"mark":{"type":"text","align":"left","baseline":"alphabetic","dx":6},"encoding":{"x":{"datum":"161-165","type":"ordinal"},"y":{"datum":9.35},"text":{"field":"line2"}}}
]}
]
}
